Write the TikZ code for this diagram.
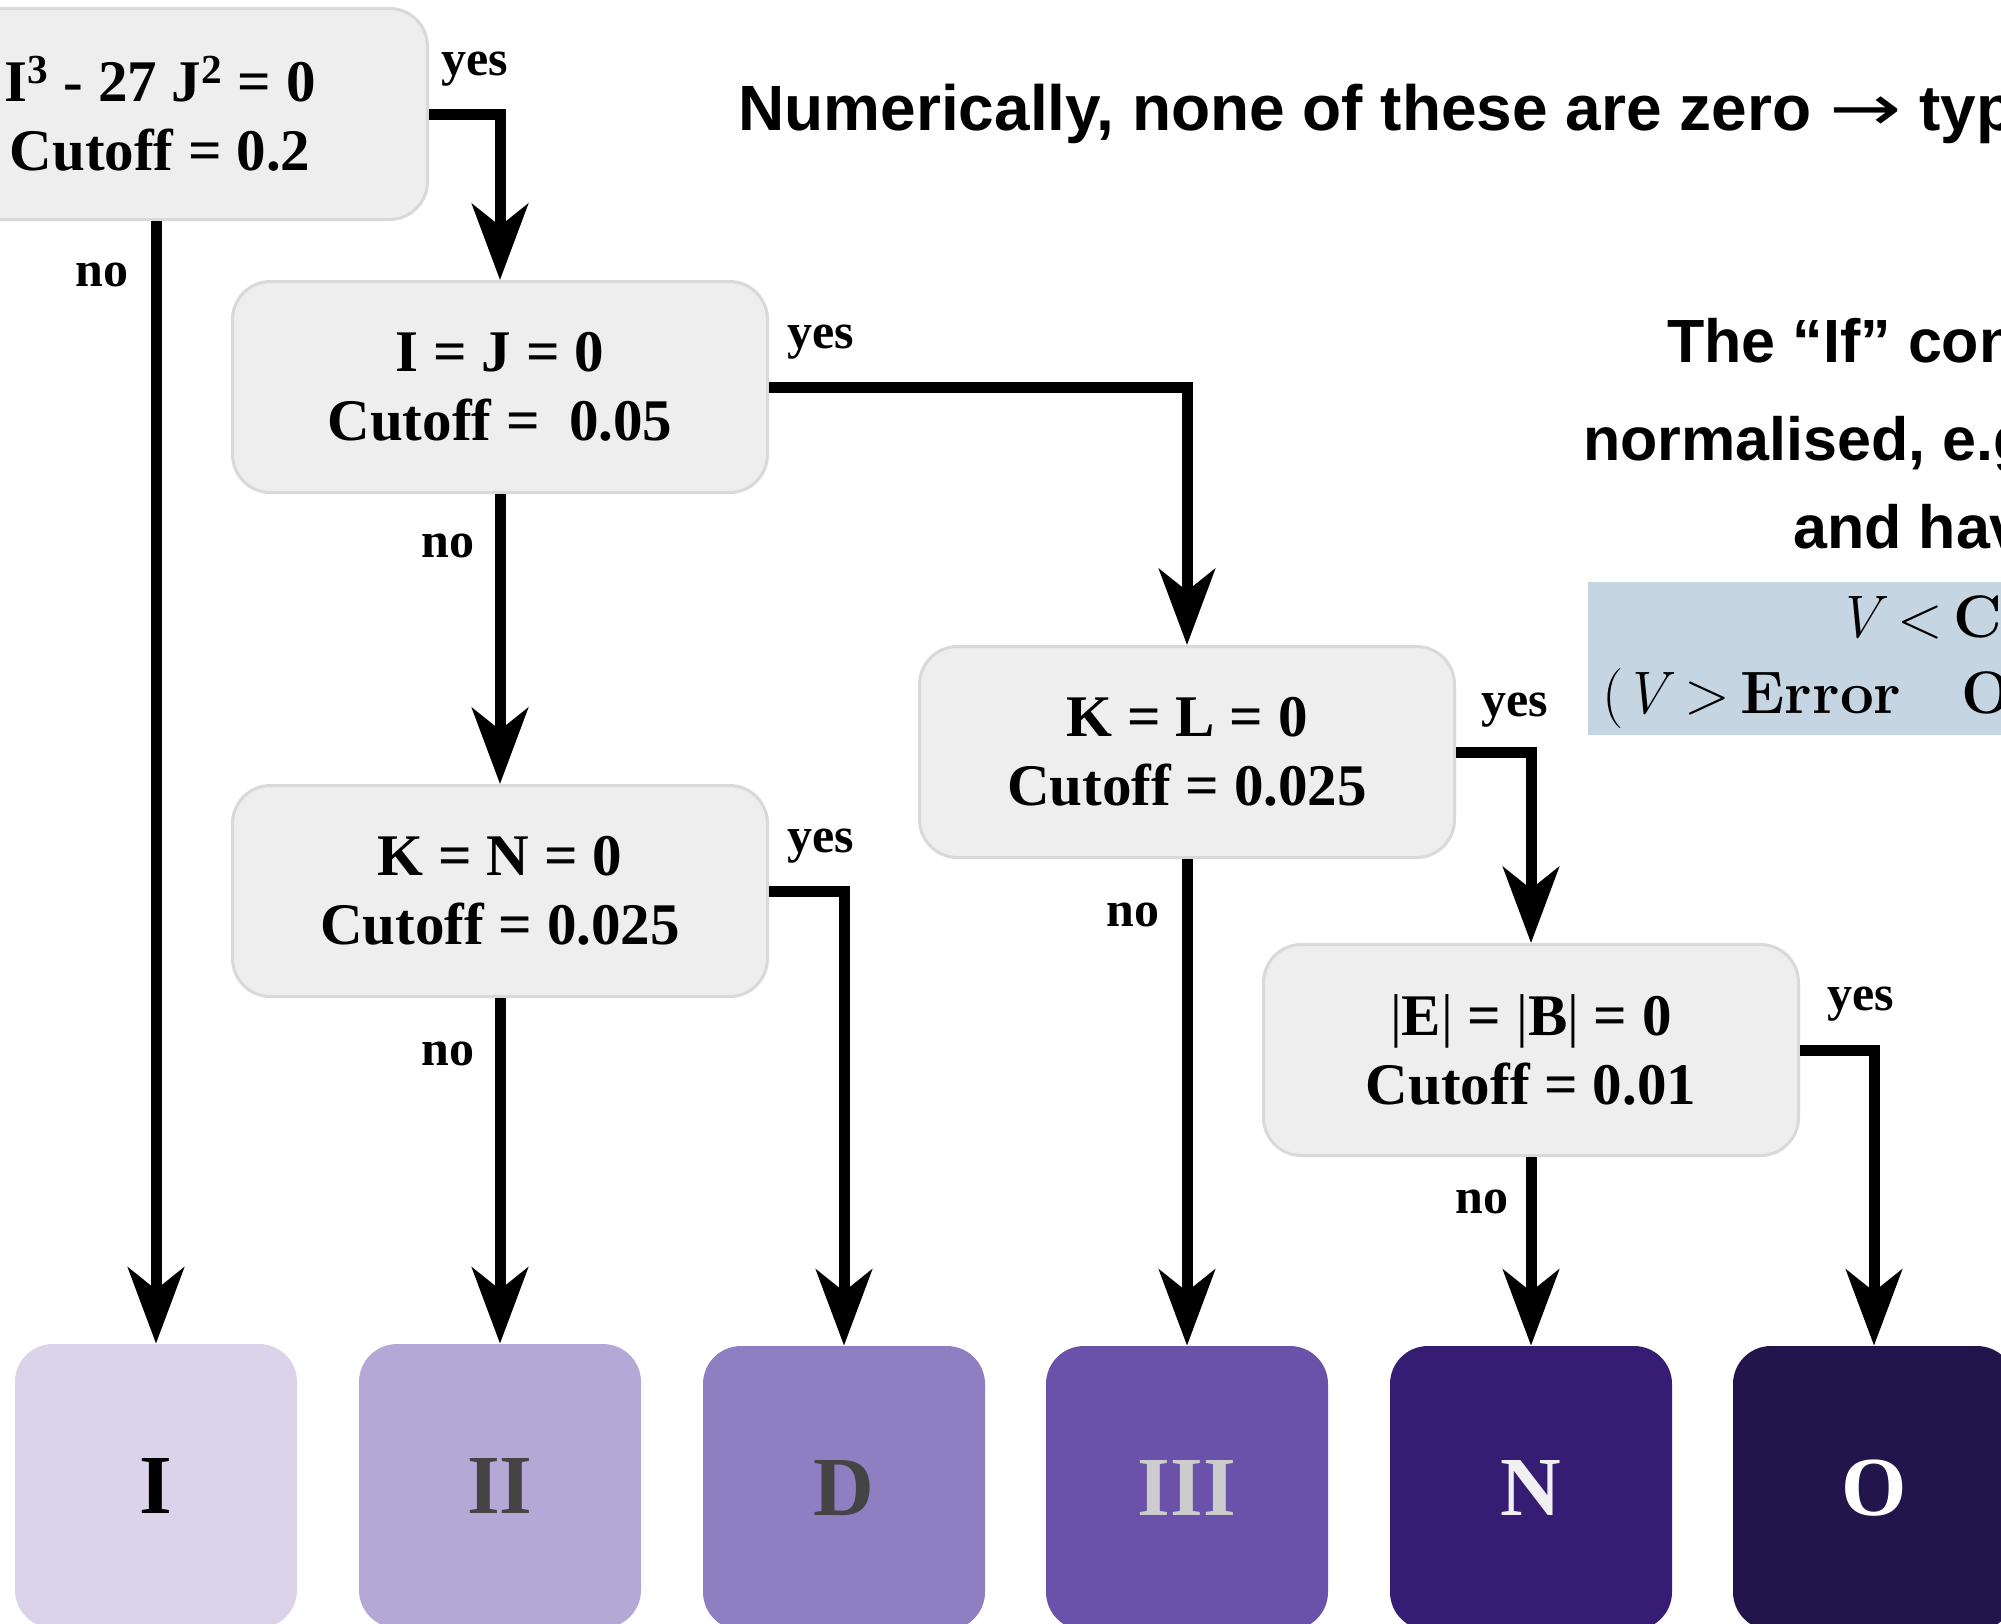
\documentclass[tikz,border=0pt]{standalone}
\usepackage{fontspec}
\newfontfamily\serifb{Liberation Serif}
\newfontfamily\sansb{Liberation Sans}
\newfontfamily\arrowfont{DejaVu Sans}
\usetikzlibrary{arrows.meta}
\definecolor{condline}{HTML}{D9D9D9}
\definecolor{condfill}{HTML}{EEEEEE}
\definecolor{cI}{HTML}{DAD3EA}
\definecolor{cII}{HTML}{B3A8D6}
\definecolor{cD}{HTML}{8E7FC2}
\definecolor{cIII}{HTML}{6A51A9}
\definecolor{cN}{HTML}{361C73}
\definecolor{cO}{HTML}{21154B}
\definecolor{eqblue}{HTML}{C5D5E2}
\definecolor{tdark}{HTML}{444444}
\definecolor{tlight}{HTML}{CCCCCC}
\definecolor{twhite}{HTML}{F0F0F0}
\begin{document}
\begin{tikzpicture}[x=0.5pt,y=-0.5pt,
 cond/.style={draw=condline, line width=1.5pt, fill=condfill, rounded corners=19pt,
   minimum width=267.5pt, minimum height=105.5pt, align=center, inner sep=0pt,
   font=\serifb\bfseries\fontsize{29.5}{34.5}\selectfont},
 leaf/.style={rounded corners=19pt, minimum width=141pt, minimum height=142pt, inner sep=0pt,
   font=\serifb\bfseries\fontsize{42}{42}\selectfont},
 arr/.style={line width=5.5pt, -{Stealth[length=38pt,width=28pt,inset=11pt]}},
 lbl/.style={font=\serifb\bfseries\fontsize{25}{25}\selectfont, anchor=base, inner sep=0pt},
 note/.style={font=\sansb\bfseries\fontsize{30.5}{30.5}\selectfont, anchor=base west, inner sep=0pt},
 eqtext/.style={font=\fontsize{30}{30}\selectfont, anchor=base west, inner sep=0pt}]
\clip (0,0) rectangle (2001,1623);
\fill[white] (0,0) rectangle (2001,1623);

% condition boxes
\node[cond] (A) at (160,114) {I\textsuperscript{3} - 27 J\textsuperscript{2} = 0\\Cutoff = 0.2};
\node[cond] (B) at (500,387) {I = J = 0\\Cutoff = \ 0.05};
\node[cond] (C) at (500,891) {K = N = 0\\Cutoff = 0.025};
\node[cond] (D) at (1187,752) {K = L = 0\\Cutoff = 0.025};
\node[cond] (E) at (1531,1050) {{\mdseries|}E{\mdseries|} = {\mdseries|}B{\mdseries|} = 0\\Cutoff = 0.01};

% leaves
\node[leaf, fill=cI, text=black] (I) at (156,1486) {I};
\node[leaf, fill=cII, text=tdark] (II) at (500,1486) {II};
\node[leaf, fill=cD, text=tdark] (Dl) at (844,1488) {D};
\node[leaf, fill=cIII, text=tlight] (III) at (1187,1488) {III};
\node[leaf, fill=cN, text=twhite] (N) at (1531,1488) {N};
\node[leaf, fill=cO, text=white] (O) at (1874,1488) {O};

% connectors
\draw[arr] (A.east) -| (B.north);
\draw[arr] (A.south -| I.north) -- (I.north);
\draw[arr] (B.east) -| (D.north);
\draw[arr] (B.south) -- (C.north);
\draw[arr] (C.east) -| (Dl.north);
\draw[arr] (C.south) -- (II.north);
\draw[arr] (D.east) -| (E.north);
\draw[arr] (D.south) -- (III.north);
\draw[arr] (E.east) -| (O.north);
\draw[arr] (E.south) -- (N.north);

% labels
\node[lbl] (yA) at (475,75) {yes};
\node[lbl] (nA) at (102,286) {no};
\node[lbl] (yB) at (821,348) {yes};
\node[lbl] (nB) at (448,557) {no};
\node[lbl] (yC) at (821,852) {yes};
\node[lbl] (nC) at (448,1065) {no};
\node[lbl] (yD) at (1515,716) {yes};
\node[lbl] (nD) at (1133,926) {no};
\node[lbl] (yE) at (1861,1010) {yes};
\node[lbl] (nE) at (1482,1213) {no};

% right-hand notes
\node[note, font=\sansb\bfseries\fontsize{32}{32}\selectfont] (t1) at (738,130)
  {Numerically, none of these are zero {\arrowfont\mdseries\scalebox{1.35}[1]{→}} typ};
\node[note] (t2) at (1667,362) {The “If” con};
\node[note] (t3) at (1583,460) {normalised, e.g};
\node[note] (t4) at (1793,548) {and hav};
\node[fill=eqblue, anchor=north west, minimum width=215pt, minimum height=76.5pt, inner sep=0pt] (eqbox) at (1588,582) {};
\node[eqtext] (e1) at (1836,637) {\textit{V}\,<\,\textbf{Cu}};
\node[eqtext] (e2) at (1602,713) {(\textit{V}\,>\,\textbf{Error}\quad \textbf{O}};
\end{tikzpicture}
\end{document}
